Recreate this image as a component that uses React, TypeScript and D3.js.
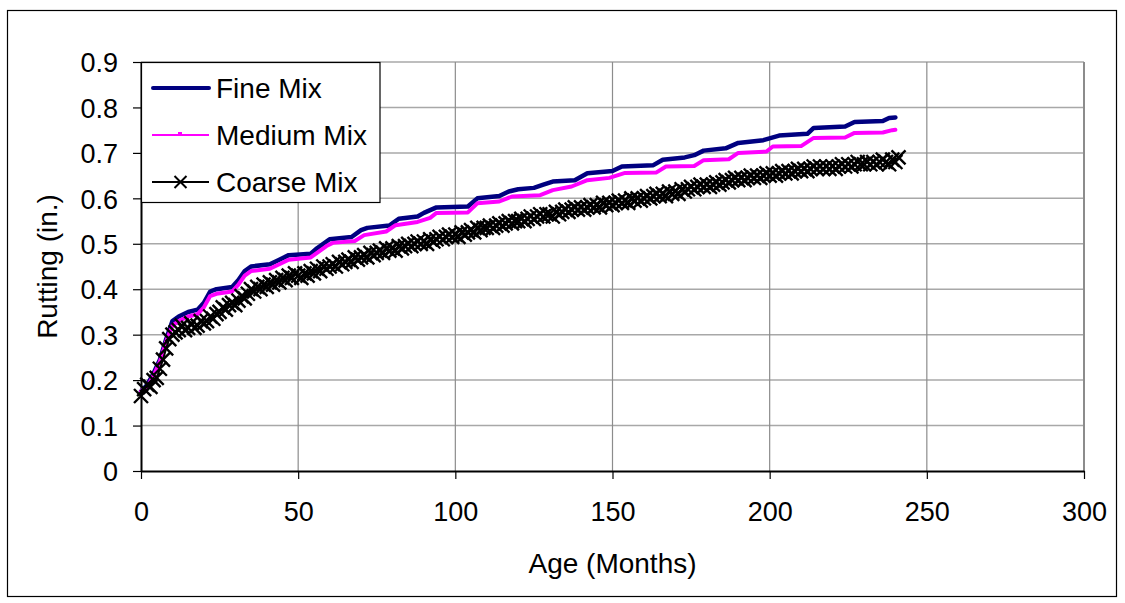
import React, { useEffect, useRef } from 'react';
import * as d3 from 'd3';

// Fine / Medium mix: breakpoints (month, rutting)
const fineMonths = [0, 2, 4, 6, 8, 10, 12, 15, 18, 20, 22, 24, 29, 31, 33, 35, 41, 44, 47, 54, 56, 59, 60, 67, 70, 72, 79, 82, 88, 90, 94, 104, 107, 114, 117, 120, 125, 128, 131, 138, 142, 150, 153, 163, 166, 173, 176, 179, 186, 190, 198, 203, 212, 214, 224, 227, 236, 238, 240];
const fineValues = [0.175, 0.19, 0.215, 0.245, 0.29, 0.33, 0.34, 0.35, 0.355, 0.37, 0.395, 0.4, 0.405, 0.42, 0.44, 0.45, 0.455, 0.465, 0.475, 0.478, 0.49, 0.505, 0.51, 0.515, 0.53, 0.535, 0.54, 0.555, 0.56, 0.568, 0.58, 0.582, 0.6, 0.605, 0.615, 0.62, 0.623, 0.63, 0.637, 0.64, 0.655, 0.66, 0.67, 0.673, 0.685, 0.69, 0.695, 0.705, 0.71, 0.722, 0.728, 0.738, 0.742, 0.755, 0.758, 0.768, 0.77, 0.777, 0.778];

const mediumMonths = [0, 2, 4, 6, 8, 10, 12, 15, 18, 20, 22, 24, 29, 31, 33, 35, 41, 44, 47, 54, 56, 59, 61, 68, 71, 78, 81, 88, 92, 94, 104, 107, 114, 118, 127, 131, 137, 142, 149, 154, 164, 167, 176, 179, 187, 190, 199, 201, 210, 214, 224, 227, 236, 239, 240];
const mediumValues = [0.175, 0.185, 0.21, 0.24, 0.285, 0.32, 0.33, 0.34, 0.345, 0.36, 0.385, 0.39, 0.395, 0.41, 0.43, 0.44, 0.445, 0.455, 0.465, 0.47, 0.48, 0.495, 0.502, 0.506, 0.519, 0.527, 0.541, 0.548, 0.557, 0.568, 0.569, 0.589, 0.593, 0.604, 0.607, 0.618, 0.626, 0.64, 0.645, 0.656, 0.657, 0.67, 0.671, 0.684, 0.686, 0.7, 0.703, 0.714, 0.715, 0.733, 0.734, 0.744, 0.745, 0.75, 0.751];

// Coarse mix: one value per month, 0..241
const coarseValues = [
  0.165, 0.18, 0.19, 0.185, 0.2, 0.205, 0.225, 0.245, 0.27, 0.29,
  0.3, 0.305, 0.31, 0.32, 0.31, 0.315, 0.325, 0.315, 0.32, 0.33,
  0.325, 0.33, 0.34, 0.335, 0.345, 0.35, 0.36, 0.355, 0.365, 0.37,
  0.365, 0.375, 0.385, 0.38, 0.39, 0.4, 0.395, 0.405, 0.4, 0.41,
  0.405, 0.415, 0.41, 0.42, 0.415, 0.425, 0.42, 0.43, 0.425, 0.435,
  0.43, 0.425, 0.435, 0.43, 0.44, 0.435, 0.445, 0.44, 0.45, 0.445,
  0.45, 0.455, 0.45, 0.46, 0.455, 0.46, 0.465, 0.46, 0.47, 0.465,
  0.47, 0.475, 0.47, 0.48, 0.475, 0.48, 0.485, 0.48, 0.49, 0.485,
  0.49, 0.485, 0.495, 0.49, 0.495, 0.5, 0.495, 0.5, 0.505, 0.5,
  0.505, 0.5, 0.51, 0.505, 0.51, 0.515, 0.51, 0.515, 0.52, 0.515,
  0.52, 0.515, 0.525, 0.52, 0.525, 0.53, 0.525, 0.535, 0.53, 0.535,
  0.535, 0.54, 0.535, 0.54, 0.545, 0.54, 0.545, 0.55, 0.545, 0.55,
  0.55, 0.555, 0.55, 0.555, 0.56, 0.555, 0.56, 0.565, 0.56, 0.565,
  0.565, 0.56, 0.57, 0.565, 0.57, 0.575, 0.57, 0.575, 0.58, 0.575,
  0.58, 0.575, 0.58, 0.585, 0.58, 0.585, 0.58, 0.59, 0.585, 0.59,
  0.585, 0.59, 0.595, 0.59, 0.595, 0.59, 0.6, 0.595, 0.6, 0.595,
  0.6, 0.605, 0.6, 0.605, 0.61, 0.605, 0.61, 0.605, 0.615, 0.61,
  0.615, 0.61, 0.62, 0.615, 0.62, 0.625, 0.62, 0.625, 0.63, 0.625,
  0.63, 0.625, 0.63, 0.635, 0.63, 0.635, 0.64, 0.635, 0.64, 0.645,
  0.64, 0.645, 0.64, 0.645, 0.65, 0.645, 0.65, 0.645, 0.65, 0.655,
  0.65, 0.655, 0.65, 0.655, 0.66, 0.655, 0.66, 0.655, 0.66, 0.665,
  0.66, 0.665, 0.66, 0.665, 0.67, 0.665, 0.67, 0.665, 0.67, 0.665,
  0.67, 0.665, 0.67, 0.675, 0.67, 0.675, 0.67, 0.675, 0.68, 0.675,
  0.675, 0.68, 0.675, 0.68, 0.675, 0.68, 0.685, 0.68, 0.675, 0.685,
  0.68, 0.69,
];

const xTicks = [0, 50, 100, 150, 200, 250, 300];
const yTicks = [0, 0.1, 0.2, 0.3, 0.4, 0.5, 0.6, 0.7, 0.8, 0.9];
const seriesNames = ['Fine Mix', 'Medium Mix', 'Coarse Mix'];

const W = 1125;
const H = 603;
const FONT = '"Liberation Sans", Arial, sans-serif';

export default function App() {
  const svgRef = useRef<SVGSVGElement>(null);

  useEffect(() => {
    if (!svgRef.current) return;
    const svg = d3.select(svgRef.current);
    svg.selectAll('*').remove();

    const plot = { left: 141, right: 1084, top: 62, bottom: 471 };
    const x = d3.scaleLinear().domain([0, 300]).range([plot.left, plot.right]);
    const y = d3.scaleLinear().domain([0, 0.9]).range([plot.bottom, plot.top]);

    svg.append('rect').attr('width', W).attr('height', H).attr('fill', '#fff');
    // outer chart border
    svg.append('rect')
      .attr('x', 7.5).attr('y', 10.5)
      .attr('width', 1109).attr('height', 586)
      .attr('fill', 'none').attr('stroke', '#000').attr('stroke-width', 1.2);

    // gridlines
    svg.append('g').selectAll('line')
      .data(yTicks.filter(t => t > 0))
      .enter().append('line')
      .attr('x1', plot.left).attr('x2', plot.right)
      .attr('y1', d => y(d)).attr('y2', d => y(d))
      .attr('stroke', '#a8a8a8').attr('stroke-width', 1.5);
    svg.append('g').selectAll('line')
      .data(xTicks.filter(t => t > 0))
      .enter().append('line')
      .attr('x1', d => x(d)).attr('x2', d => x(d))
      .attr('y1', plot.top).attr('y2', plot.bottom)
      .attr('stroke', '#8c8c8c').attr('stroke-width', d => (d === 300 ? 2 : 1.2));

    // axes
    const axisX = d3.axisBottom(x).tickValues(xTicks).tickSize(8).tickSizeOuter(0).tickFormat(d3.format('d'));
    const gx = svg.append('g').attr('transform', `translate(0,${plot.bottom})`).call(axisX);
    gx.select('.domain').attr('stroke', '#000').attr('stroke-width', 2);
    gx.selectAll('.tick line').attr('stroke', '#000').attr('stroke-width', 1.2);
    gx.selectAll('text').attr('font-family', FONT).attr('font-size', 27).attr('fill', '#000').attr('dy', '0.71em').attr('y', 31);

    const axisY = d3.axisLeft(y).tickValues(yTicks).tickSize(8).tickSizeOuter(0).tickPadding(15)
      .tickFormat(d => (d === 0 ? '0' : d3.format('.1f')(d as number)));
    const gy = svg.append('g').attr('transform', `translate(${plot.left},0)`).call(axisY);
    gy.select('.domain').attr('stroke', '#000').attr('stroke-width', 2);
    gy.selectAll('.tick line').attr('stroke', '#000').attr('stroke-width', 1.2);
    gy.selectAll('text').attr('font-family', FONT).attr('font-size', 27).attr('fill', '#000').attr('dy', '0.36em');

    // axis titles
    svg.append('text')
      .attr('x', (plot.left + plot.right) / 2).attr('y', 573)
      .attr('text-anchor', 'middle')
      .attr('font-family', FONT).attr('font-size', 28)
      .text('Age (Months)');
    svg.append('text')
      .attr('transform', `translate(57,${(plot.top + plot.bottom) / 2}) rotate(-90)`)
      .attr('text-anchor', 'middle')
      .attr('font-family', FONT).attr('font-size', 28)
      .text('Rutting (in.)');

    const line = d3.line<[number, number]>()
      .x(d => x(d[0]))
      .y(d => y(d[1]));

    const finePts: [number, number][] = fineMonths.map((m, i) => [m, fineValues[i]]);
    const mediumPts: [number, number][] = mediumMonths.map((m, i) => [m, mediumValues[i]]);
    const coarsePts: [number, number][] = coarseValues.map((v, i) => [i, v]);

    svg.append('path').datum(finePts).attr('d', line)
      .attr('fill', 'none').attr('stroke', '#000080').attr('stroke-width', 4.5)
      .attr('stroke-linejoin', 'round').attr('stroke-linecap', 'round');

    svg.append('path').datum(mediumPts).attr('d', line)
      .attr('fill', 'none').attr('stroke', '#ff00ff').attr('stroke-width', 4)
      .attr('stroke-linejoin', 'round').attr('stroke-linecap', 'round');

    svg.append('path').datum(coarsePts).attr('d', line)
      .attr('fill', 'none').attr('stroke', '#000').attr('stroke-width', 2);

    const xMark = (g: d3.Selection<SVGGElement, unknown, null, undefined>, cx: number, cy: number, s: number, w: number) => {
      g.append('path')
        .attr('d', `M${cx - s},${cy - s}L${cx + s},${cy + s}M${cx - s},${cy + s}L${cx + s},${cy - s}`)
        .attr('stroke', '#000').attr('stroke-width', w).attr('fill', 'none');
    };
    const gm = svg.append('g');
    coarsePts.forEach(p => xMark(gm, x(p[0]), y(p[1]), 7, 2.4));

    // legend
    const lg = svg.append('g');
    lg.append('rect')
      .attr('x', 141.5).attr('y', 62.5).attr('width', 238.5).attr('height', 140)
      .attr('fill', '#fff').attr('stroke', '#000').attr('stroke-width', 1.2);
    const rowY = [88, 135, 182];
    seriesNames.forEach((name, i) => {
      const yy = rowY[i];
      if (i === 0) {
        lg.append('line').attr('x1', 153).attr('x2', 209).attr('y1', yy).attr('y2', yy)
          .attr('stroke', '#000080').attr('stroke-width', 4).attr('stroke-linecap', 'round');
      } else if (i === 1) {
        lg.append('line').attr('x1', 152).attr('x2', 209).attr('y1', yy).attr('y2', yy)
          .attr('stroke', '#ff00ff').attr('stroke-width', 2);
        lg.append('rect').attr('x', 178).attr('y', yy - 3).attr('width', 4).attr('height', 4).attr('fill', '#ff00ff');
      } else {
        lg.append('line').attr('x1', 152).attr('x2', 209).attr('y1', yy).attr('y2', yy)
          .attr('stroke', '#000').attr('stroke-width', 2);
        xMark(lg, 180.5, yy, 6, 2);
      }
      lg.append('text')
        .attr('x', 216).attr('y', yy + 10)
        .attr('font-family', FONT).attr('font-size', 28)
        .text(name);
    });
  }, []);

  return (
    <svg
      ref={svgRef}
      width={W}
      height={H}
      style={{ position: 'absolute', left: 0, top: 0, display: 'block' }}
    />
  );
}
